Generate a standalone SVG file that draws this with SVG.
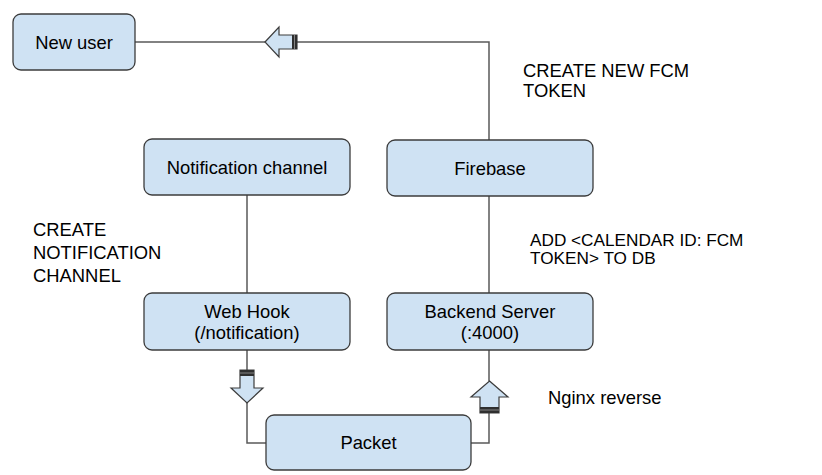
<svg xmlns="http://www.w3.org/2000/svg" width="822" height="475" viewBox="0 0 822 475">
<style>
.box{fill:#cfe2f3;stroke:#3c3c3c;stroke-width:1.3}
.t{font-family:"Liberation Sans",Arial,sans-serif;font-size:18.4px;fill:#000}
.c{text-anchor:middle}
.ln{fill:none;stroke:#595959;stroke-width:1.5}
.arr{fill:#cfe2f3;stroke:#3c3c3c;stroke-width:1.2;stroke-linejoin:miter}
.band{fill:#2f2f2f}
.bl{stroke:#9a9a9a;stroke-width:0.8}
</style>
<rect width="822" height="475" fill="#fff"/>
<g id="connectors">
<polyline class="ln" points="489,140 489,42 297,42"/>
<line class="ln" x1="265" y1="42" x2="135" y2="42"/>
<line class="ln" x1="247" y1="195" x2="247" y2="293"/>
<line class="ln" x1="489" y1="196" x2="489" y2="293"/>
<line class="ln" x1="247" y1="350" x2="247" y2="370"/>
<polyline class="ln" points="247,403 247,443 266,443"/>
<line class="ln" x1="489" y1="350" x2="489" y2="381"/>
<polyline class="ln" points="489,413 489,443 471,443"/>
<g id="arrow-left">
<polygon class="arr" points="265,42 279,27 279,35 297,35 297,49 279,49 279,57"/>
<rect class="band" x="292" y="35" width="5" height="14"/>
<line class="bl" x1="294.5" y1="35" x2="294.5" y2="49"/>
</g>
<g id="arrow-down">
<polygon class="arr" points="240,370 254,370 254,388 263,388 247,403 231,388 240,388"/>
<rect class="band" x="240" y="370" width="14" height="6"/>
<line class="bl" x1="240" y1="373" x2="254" y2="373"/>
</g>
<g id="arrow-up">
<polygon class="arr" points="489.5,381 508,397 499,397 499,413 480,413 480,397 471,397"/>
<rect class="band" x="480" y="407" width="19" height="6"/>
<line class="bl" x1="480" y1="410" x2="499" y2="410"/>
</g>
</g>
<g id="new-user">
<rect class="box" x="13" y="14" width="122" height="56" rx="8"/>
<text class="t c" x="74" y="48.5">New user</text>
</g>
<g id="notification-channel">
<rect class="box" x="144" y="139" width="206" height="56" rx="8"/>
<text class="t c" x="247" y="173.5">Notification channel</text>
</g>
<g id="firebase">
<rect class="box" x="387" y="140" width="206" height="56" rx="8"/>
<text class="t c" x="490" y="174.5">Firebase</text>
</g>
<g id="web-hook">
<rect class="box" x="144" y="293" width="206" height="57" rx="8"/>
<text class="t c" x="247" y="317.5">Web Hook</text>
<text class="t c" x="247" y="338.5">(/notification)</text>
</g>
<g id="backend-server">
<rect class="box" x="387" y="293" width="206" height="57" rx="8"/>
<text class="t c" x="490" y="317.5">Backend Server</text>
<text class="t c" x="490" y="338.5">(:4000)</text>
</g>
<g id="packet">
<rect class="box" x="266" y="415" width="205" height="55" rx="8"/>
<text class="t c" x="368.5" y="449">Packet</text>
</g>
<g id="labels">
<text class="t" x="523" y="76.5">CREATE NEW FCM</text>
<text class="t" x="523" y="97">TOKEN</text>
<text class="t" x="33" y="236">CREATE</text>
<text class="t" x="33" y="259">NOTIFICATION</text>
<text class="t" x="33" y="282">CHANNEL</text>
<text class="t" style="font-size:17.2px" x="530" y="245.5">ADD &lt;CALENDAR ID: FCM</text>
<text class="t" style="font-size:17.2px" x="530" y="264">TOKEN&gt; TO DB</text>
<text class="t" x="548" y="403.5">Nginx reverse</text>
</g>
</svg>
